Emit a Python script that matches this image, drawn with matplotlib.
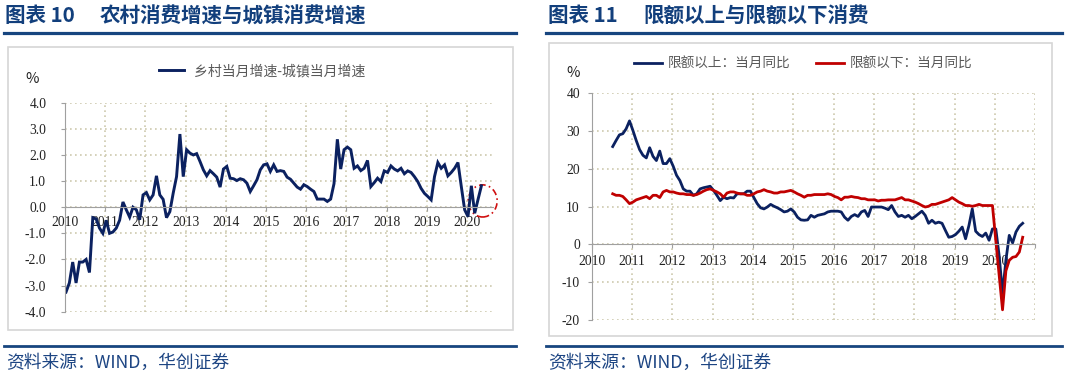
import matplotlib
matplotlib.use("Agg")
import matplotlib.pyplot as plt
import numpy as np
from matplotlib.lines import Line2D
from matplotlib.patches import Ellipse, Rectangle

plt.rcParams["font.family"] = ["Noto Sans CJK SC", "DejaVu Sans"]
plt.rcParams["axes.unicode_minus"] = False

W, H = 1070, 381

# ---- data: chart 10, rural minus urban monthly growth (%), from Jan 2010
gap_start_year = 2010
gap_values = [
    -3.25, -2.9, -2.1, -2.9, -2.1, -2.1, -2.0, -2.5, -0.4, -0.45, -0.8, -1.0,
    -0.5, -1.0, -0.95, -0.8, -0.5, 0.2, -0.1, -0.38, 0.0, -0.1, -0.48, 0.47,
    0.56, 0.28, 0.47, 1.2, 0.47, 0.3, -0.4, -0.17, 0.54, 1.17, 2.8, 1.17,
    2.2, 2.07, 2.0, 2.05, 1.75, 1.43, 1.2, 1.4, 1.28, 1.15, 0.77, 1.46,
    1.56, 1.11, 1.09, 1.02, 1.09, 1.05, 0.92, 0.6, 0.82, 1.05, 1.43, 1.62,
    1.66, 1.37, 1.62, 1.37, 1.4, 1.37, 1.15, 1.07, 0.92, 0.77, 0.69, 0.86,
    0.79, 0.69, 0.6, 0.31, 0.31, 0.31, 0.22, 0.31, 0.9, 2.6, 1.46, 2.2,
    2.3, 2.2, 1.49, 1.58, 1.4, 1.49, 1.79, 0.79, 0.94, 1.11, 0.98, 1.39,
    1.33, 1.58, 1.46, 1.39, 1.49, 1.28, 1.39, 1.33, 1.17, 0.98, 0.72, 0.53,
    0.41, 0.28, 1.17, 1.71, 1.49, 1.62, 1.2, 1.33, 1.49, 1.71, 0.79, -0.1,
    -0.36, 0.82, -0.23, 0.3, 0.82,
]
gap_label = "乡村当月增速-城镇当月增速"

# ---- data: chart 11, retail sales above / below quota, yoy (%), from Jul 2010
quota_start_month = 6  # months after Jan 2010
above_values = [
    25.9, 27.5, 29.0, 29.3, 30.6, 32.7,
    30.2, 27.5, 25.1, 23.6, 22.9, 25.6, 23.3, 22.2, 24.7, 21.4, 21.4, 22.7,
    20.7, 18.3, 16.9, 14.7, 14.1, 14.1, 13.0, 13.4, 14.7, 15.0, 15.2, 15.4,
    14.3, 13.0, 11.6, 12.5, 12.1, 12.4, 12.3, 13.4, 13.4, 13.4, 14.1, 14.1,
    12.4, 10.8, 9.7, 9.4, 9.9, 10.6, 10.1, 9.7, 9.2, 8.6, 8.8, 9.4,
    8.6, 7.2, 6.5, 6.4, 6.5, 7.7, 7.2, 7.7, 7.9, 8.1, 8.6, 8.8,
    8.8, 8.8, 8.6, 7.2, 6.4, 7.4, 7.9, 7.4, 8.6, 9.0, 7.4, 9.9,
    9.9, 9.9, 9.9, 9.6, 9.2, 10.3, 8.6, 7.4, 7.7, 7.2, 7.7, 6.8,
    7.4, 8.1, 8.8, 7.7, 5.6, 6.4, 5.6, 5.9, 5.6, 3.7, 1.9, 2.1,
    2.6, 3.5, 4.6, 1.5, 5.0, 9.4, 3.5, 2.6, 2.1, 3.0, 1.1, 4.1,
    4.1, -3.0, -13.0, -4.2, 2.4, 0.4, 3.3, 4.8, 5.6,
]
below_values = [
    13.4, 13.0, 13.0, 12.7, 11.8, 10.8,
    11.2, 11.8, 12.1, 12.4, 12.7, 12.1, 13.0, 13.0, 12.4, 13.9, 14.3, 13.9,
    13.9, 13.6, 13.4, 13.4, 13.2, 13.2, 13.0, 13.2, 13.6, 14.1, 14.5, 14.7,
    14.3, 13.9, 13.4, 12.5, 13.6, 13.9, 13.9, 13.6, 13.4, 13.4, 13.0, 13.0,
    13.4, 13.9, 14.1, 14.5, 14.1, 13.9, 13.6, 13.6, 13.9, 13.9, 14.1, 14.3,
    13.9, 13.4, 13.0, 12.5, 13.0, 13.0, 13.2, 13.2, 13.2, 13.2, 13.4, 13.2,
    12.7, 12.4, 11.8, 12.5, 12.5, 12.7, 12.5, 12.4, 12.1, 12.1, 11.8, 11.8,
    11.8, 11.5, 11.7, 11.7, 11.8, 11.8, 11.8, 12.1, 12.4, 11.8, 11.8, 11.5,
    11.2, 10.8, 10.3, 9.9, 10.1, 10.6, 10.6, 10.9, 11.2, 11.5, 11.8, 12.4,
    11.8, 11.2, 10.8, 10.3, 10.3, 10.1, 10.3, 10.6, 10.3, 10.3, 10.3, 10.3,
    1.0, -8.2, -17.3, -7.0, -4.2, -3.4, -3.2, -2.0, 1.9,
]
above_label = "限额以上：当月同比"
below_label = "限额以下：当月同比"

left_years = list(range(2010, 2021))
right_years = list(range(2010, 2021))

# ---- styles
NAVY = "#0b2160"
RED = "#c00000"
TITLE_BLUE = "#123f7c"
RULE_BLUE = "#17457f"
GRID = "#cdc9ae"
SPINE = "#a0a0a0"
NUM_FONT = "Liberation Serif"


def fx(px):
    return px / W


def fy(py):
    return 1 - py / H


def style_axes(ax, ypad):
    for side in ["top", "right"]:
        ax.spines[side].set_visible(False)
    ax.spines["left"].set_color(SPINE)
    ax.spines["bottom"].set_color(SPINE)
    ax.spines["bottom"].set_position(("data", 0))
    ax.grid(True, color=GRID, linestyle=(0, (1, 2)), linewidth=1.2)
    ax.set_axisbelow(True)
    ax.tick_params(axis="both", direction="out", length=3, color=SPINE,
                   labelsize=9.8, labelcolor="#222222")
    ax.tick_params(axis="y", pad=ypad)
    for lbl in ax.get_xticklabels() + ax.get_yticklabels():
        lbl.set_fontfamily(NUM_FONT)


fig = plt.figure(figsize=(W / 100, H / 100), dpi=100)

# ================= chart 10 =================
ax1 = fig.add_axes([fx(65), fy(311.7), 428 / W, 209 / H])
m = np.arange(len(gap_values))
x1 = gap_start_year + (m + 0.3) / 12
ax1.plot(x1, gap_values, color=NAVY, linewidth=2.1, label=gap_label,
         solid_joinstyle="miter")
ax1.set_xlim(2010, 2010 + 428 / 40.2)
ax1.set_ylim(-4, 4)
ax1.set_xticks(left_years)
ax1.set_xticklabels([str(y) for y in left_years])
ax1.set_yticks(np.arange(-4, 5, 1))
ax1.set_yticklabels([f"{v:.1f}" for v in np.arange(-4, 5, 1)])
style_axes(ax1, ypad=10.5)
ax1.tick_params(axis="x", pad=3.5)

circle = Ellipse((2020.39, 0.24), 0.72, 1.23, fill=False, edgecolor="#d01010",
                 linestyle=(0, (4, 2, 1, 2)), linewidth=1.2, clip_on=False)
ax1.add_patch(circle)

ax1.legend(loc="center", bbox_to_anchor=(fx(262), fy(71)),
           bbox_transform=fig.transFigure, frameon=False, fontsize=10,
           handlelength=1.8, handletextpad=0.7, labelcolor="#595959")
fig.text(fx(32), fy(79), "%", ha="center", va="center", fontsize=10.5,
         color="#222222")

# ================= chart 11 =================
ax2 = fig.add_axes([fx(591.7), fy(320), 443.6 / W, 226.7 / H])
m2 = np.arange(len(above_values)) + quota_start_month
x2 = 2010 + (m2 + 0.25) / 12
ax2.plot(x2, above_values, color=NAVY, linewidth=2.0, label=above_label)
ax2.plot(x2, below_values, color=RED, linewidth=2.0, label=below_label)
ax2.set_xlim(2010, 2021)
ax2.set_ylim(-20, 40)
ax2.set_xticks(right_years + [2021])
ax2.set_xticklabels([str(y) for y in right_years] + [""])
ax2.set_yticks(np.arange(-20, 41, 10))
style_axes(ax2, ypad=5.5)
ax2.tick_params(axis="x", pad=4.3)

ax2.legend(loc="center", bbox_to_anchor=(fx(803), fy(64)),
           bbox_transform=fig.transFigure, frameon=False, fontsize=9.8,
           ncol=2, handlelength=2.05, handletextpad=0.4, columnspacing=1.9,
           labelcolor="#595959")
fig.text(fx(573), fy(73), "%", ha="center", va="center", fontsize=10.5,
         color="#222222")

# ================= frames, titles, sources =================
fig.add_artist(Rectangle((fx(8), fy(330)), (513 - 8) / W, (330 - 47) / H,
                         transform=fig.transFigure, fill=False,
                         edgecolor="#d6d6d6", linewidth=1.2))
fig.add_artist(Rectangle((fx(549), fy(336)), (1052 - 549) / W, (336 - 43) / H,
                         transform=fig.transFigure, fill=False,
                         edgecolor="#d6d6d6", linewidth=1.2))

for x0, x_end in [(4, 516), (546, 1062)]:
    fig.add_artist(Line2D([fx(x0), fx(x_end)], [fy(33), fy(33)],
                          color=RULE_BLUE, linewidth=2.3))
    fig.add_artist(Line2D([fx(x0), fx(x_end)], [fy(345.5), fy(345.5)],
                          color=RULE_BLUE, linewidth=2.0))

title_kw = dict(fontsize=14.8, fontweight="bold", color=TITLE_BLUE, va="center")
fig.text(fx(5), fy(16), "图表 10", **title_kw)
fig.text(fx(100), fy(16), "农村消费增速与城镇消费增速", **title_kw)
fig.text(fx(548), fy(16), "图表 11", **title_kw)
fig.text(fx(643), fy(16), "限额以上与限额以下消费", **title_kw)

source_kw = dict(fontsize=12.8, style="italic", color="#1d4583", va="center",
                 family=["Noto Sans CJK SC", "DejaVu Sans"])
fig.text(fx(6), fy(363), "资料来源：WIND，华创证券", **source_kw)
fig.text(fx(548), fy(363), "资料来源：WIND，华创证券", **source_kw)

fig.savefig("out.png", dpi=100, facecolor="white")
